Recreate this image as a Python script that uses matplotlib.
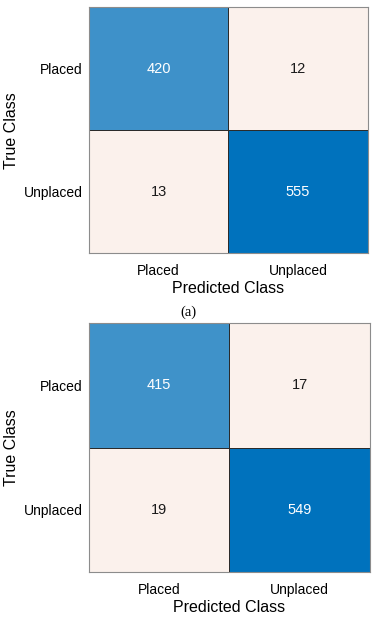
import numpy as np
import matplotlib
matplotlib.use('Agg')
import matplotlib.pyplot as plt
from matplotlib.colors import LinearSegmentedColormap

classes = ['Placed', 'Unplaced']
cm_a = [[420, 12], [13, 555]]
cm_b = [[415, 17], [19, 549]]

plt.rcParams['font.family'] = ['Liberation Sans', 'DejaVu Sans']
cmap = LinearSegmentedColormap.from_list('mblue', ['#fbf1ec', '#0072bd'])

fig = plt.figure(figsize=(3.75, 6.19), dpi=100)
ax1 = fig.add_axes([0.237, 0.591, 0.744, 0.3974])
ax2 = fig.add_axes([0.237, 0.0759, 0.749, 0.402])


def draw_cm(ax, cm):
    cm = np.array(cm)
    ax.pcolormesh(np.arange(3), np.arange(3), cm, cmap=cmap,
                  vmin=cm.min(), vmax=cm.max(),
                  edgecolors='#2b2b2b', linewidth=0.7)
    ax.set_xlim(0, 2)
    ax.set_ylim(2, 0)
    for i in range(2):
        for j in range(2):
            color = 'white' if i == j else '#1a1a1a'
            ax.text(j + 0.5, i + 0.5, str(cm[i, j]), ha='center', va='center',
                    color=color, fontsize=10.5)
    ax.set_xticks([0.5, 1.5])
    ax.set_xticklabels(classes, fontsize=10)
    ax.set_yticks([0.5, 1.5])
    ax.set_yticklabels(classes, fontsize=10)
    ax.tick_params(axis='x', length=0, pad=8)
    ax.tick_params(axis='y', length=0, pad=4.5)
    ax.set_xlabel('Predicted Class', fontsize=11.5, labelpad=2)
    ax.set_ylabel('True Class', fontsize=11.5)
    ax.yaxis.set_label_coords(-0.25, 0.5)
    for s in ax.spines.values():
        s.set_color('#8c8c8c')
        s.set_linewidth(0.8)


draw_cm(ax1, cm_a)
draw_cm(ax2, cm_b)

fig.text(188 / 375, 1 - 312 / 619, '(a)', ha='center', va='center',
         fontsize=10.5, family='Liberation Serif')

fig.savefig('out.png', dpi=100)
